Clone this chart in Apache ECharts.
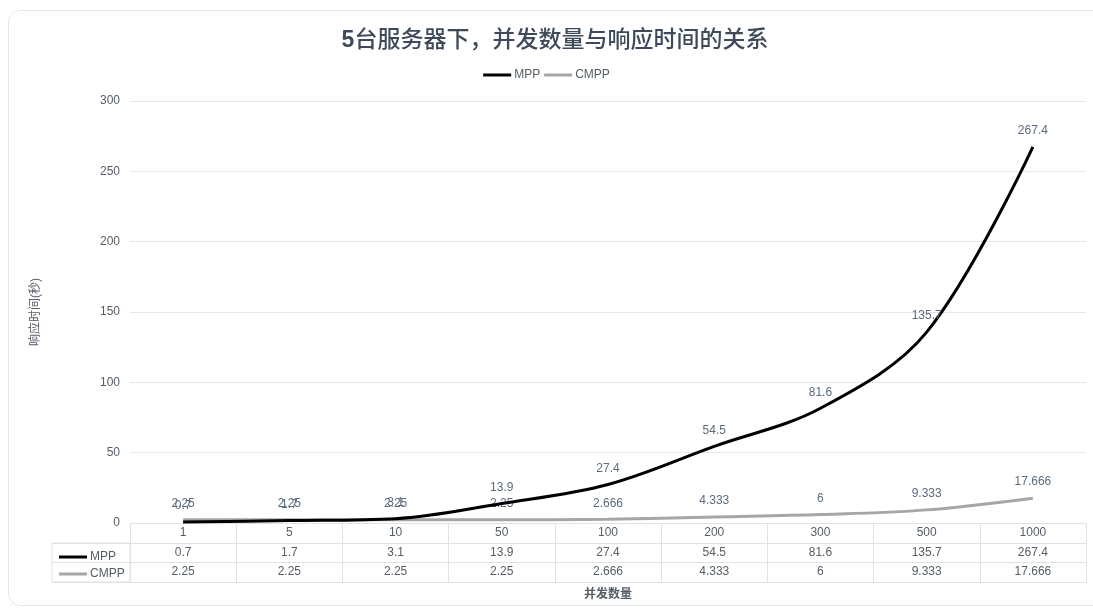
<!DOCTYPE html>
<html>
<head>
<meta charset="utf-8">
<script src="https://cdn.jsdelivr.net/npm/echarts@6/dist/echarts.min.js"></script>
<style>
html,body{margin:0;padding:0;background:#fff;}
#card{position:absolute;left:8px;top:10px;width:1100px;height:596px;border:1px solid #e3e6ea;border-radius:12px;box-sizing:border-box;pointer-events:none;}
#main{position:absolute;left:0;top:0;width:1093px;height:615px;}
</style>
</head>
<body>
<div id="main"></div>
<div id="card"></div>
<script>
const titleText = '5台服务器下，并发数量与响应时间的关系';
const categories = ['1','5','10','50','100','200','300','500','1000'];
const mppValues = [0.7, 1.7, 3.1, 13.9, 27.4, 54.5, 81.6, 135.7, 267.4];
const cmppValues = [2.25, 2.25, 2.25, 2.25, 2.666, 4.333, 6, 9.333, 17.666];
const seriesNames = ['MPP', 'CMPP'];
const yAxisName = '响应时间(秒)';
const xAxisName = '并发数量';

const lineColor = '#dfe3e8';
const textColor = '#555d66';
const labelColor = '#5b6b7d';
const fontFam = 'Liberation Sans, Arial, "Noto Sans CJK SC", sans-serif';

const chart = echarts.init(document.getElementById('main'));

function tableAxis(offset, values, extra) {
  return Object.assign({
    type: 'category',
    gridIndex: 0,
    position: 'bottom',
    offset: offset,
    data: categories,
    axisLine: { show: true, lineStyle: { color: lineColor, width: 1 } },
    axisTick: { show: false },
    axisLabel: values ? {
      show: true, interval: 0, margin: 4, fontSize: 12, color: textColor,
      formatter: function (v, i) { return String(values[i]); }
    } : { show: false },
    splitLine: { show: false }
  }, extra || {});
}

const option = {
  backgroundColor: '#fff',
  animation: false,
  textStyle: { fontFamily: fontFam },
  title: {
    text: '{b|' + titleText.slice(0, 1) + '}{n|' + titleText.slice(1) + '}',
    left: 550,
    textAlign: 'center',
    top: 24,
    textStyle: {
      fontSize: 23, color: '#3e4a5a', fontFamily: fontFam,
      rich: {
        b: { fontSize: 23, fontWeight: 'bold', color: '#3e4a5a', fontFamily: fontFam },
        n: { fontSize: 23, fontWeight: 500, color: '#3e4a5a', fontFamily: fontFam }
      }
    }
  },
  legend: [{
    data: seriesNames,
    top: 64,
    left: 'center',
    itemGap: 4,
    itemWidth: 28,
    itemHeight: 3,
    icon: 'rect',
    selectedMode: false,
    textStyle: { fontSize: 12, color: textColor, padding: [0, 0, 0, -2] }
  }, {
    data: seriesNames,
    orient: 'vertical',
    left: 54,
    top: 546,
    itemGap: 5,
    itemWidth: 28,
    itemHeight: 3,
    icon: 'rect',
    selectedMode: false,
    textStyle: { fontSize: 12, color: textColor, padding: [0, 0, 0, -2] }
  }],
  grid: [
    { left: 130, right: 7, top: 101, bottom: 92 },
    { left: 52, width: 78, top: 543, height: 39, show: true, borderColor: lineColor, borderWidth: 1, backgroundColor: 'transparent' }
  ],
  xAxis: [
    {
      type: 'category',
      gridIndex: 0,
      position: 'bottom',
      data: categories,
      boundaryGap: true,
      axisLine: { show: true, lineStyle: { color: lineColor, width: 1 } },
      axisTick: { show: true, interval: 0, length: 59, lineStyle: { color: lineColor } },
      axisLabel: { show: true, interval: 0, margin: 4, fontSize: 12, color: textColor },
      splitLine: { show: false }
    },
    tableAxis(20, mppValues),
    tableAxis(39, cmppValues),
    tableAxis(59, null, {
      name: xAxisName,
      nameLocation: 'middle',
      nameGap: 7,
      nameTextStyle: { fontSize: 12, fontWeight: 'bold', color: textColor, verticalAlign: 'top' }
    }),
    { type: 'value', gridIndex: 1, show: false }
  ],
  yAxis: [
    {
      type: 'value',
      gridIndex: 0,
      min: 0,
      max: 300,
      interval: 50,
      name: yAxisName,
      nameLocation: 'middle',
      nameGap: 88,
      nameRotate: 90,
      nameTextStyle: { fontSize: 12, color: textColor },
      axisLine: { show: false },
      axisTick: { show: false },
      axisLabel: { fontSize: 12, color: textColor, margin: 10 },
      splitLine: { show: true, lineStyle: { color: '#e3e8ef', width: 1 } }
    },
    {
      type: 'category',
      gridIndex: 1,
      inverse: true,
      data: seriesNames,
      axisLine: { show: false },
      axisTick: { show: false },
      axisLabel: { show: false },
      splitLine: { show: true, interval: 0, lineStyle: { color: lineColor } }
    }
  ],
  series: [
    {
      name: seriesNames[0],
      type: 'line',
      xAxisIndex: 0,
      yAxisIndex: 0,
      data: mppValues,
      smooth: 0.35,
      symbol: 'circle',
      symbolSize: 0,
      showSymbol: true,
      lineStyle: { color: '#000', width: 3 },
      itemStyle: { color: '#000' },
      label: { show: true, position: 'top', distance: 10, fontSize: 12, color: labelColor },
      z: 3
    },
    {
      name: seriesNames[1],
      type: 'line',
      xAxisIndex: 0,
      yAxisIndex: 0,
      data: cmppValues,
      smooth: 0.35,
      symbol: 'circle',
      symbolSize: 0,
      showSymbol: true,
      lineStyle: { color: '#a6a6a6', width: 3 },
      itemStyle: { color: '#a6a6a6' },
      label: { show: true, position: 'top', distance: 10, fontSize: 12, color: labelColor },
      z: 2
    }
  ]
};
chart.setOption(option);
</script>
</body>
</html>
